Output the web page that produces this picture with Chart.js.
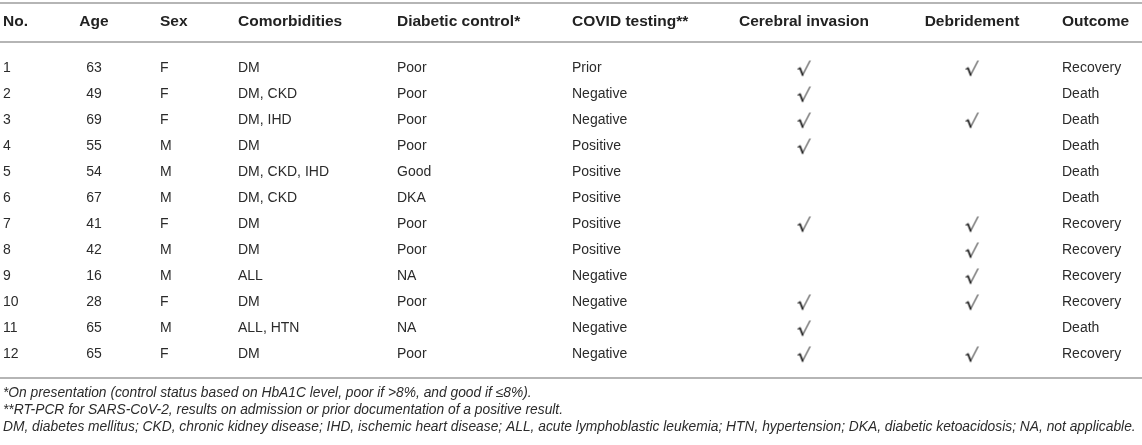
<!DOCTYPE html>
<html>
<head>
<meta charset="utf-8">
<script src="https://cdn.jsdelivr.net/npm/chart.js@4"></script>
<style>
  html, body { margin: 0; padding: 0; background: #ffffff; }
  #caseTable { display: block; }
</style>
</head>
<body>
<canvas id="caseTable" width="1142" height="445"></canvas>
<script>
// Table data
const headers = ["No.", "Age", "Sex", "Comorbidities", "Diabetic control*", "COVID testing**", "Cerebral invasion", "Debridement", "Outcome"];
const caseNo = [1, 2, 3, 4, 5, 6, 7, 8, 9, 10, 11, 12];
const ages = [63, 49, 69, 55, 54, 67, 41, 42, 16, 28, 65, 65];
const sexes = ["F", "F", "F", "M", "M", "M", "F", "M", "M", "F", "M", "F"];
const comorbidities = ["DM", "DM, CKD", "DM, IHD", "DM", "DM, CKD, IHD", "DM, CKD", "DM", "DM", "ALL", "DM", "ALL, HTN", "DM"];
const diabeticControl = ["Poor", "Poor", "Poor", "Poor", "Good", "DKA", "Poor", "Poor", "NA", "Poor", "NA", "Poor"];
const covidTesting = ["Prior", "Negative", "Negative", "Positive", "Positive", "Positive", "Positive", "Positive", "Negative", "Negative", "Negative", "Negative"];
const cerebralInvasion = [true, true, true, true, false, false, true, false, false, true, true, true];
const debridement = [true, false, true, false, false, false, true, true, true, true, false, true];
const outcomes = ["Recovery", "Death", "Death", "Death", "Death", "Death", "Recovery", "Recovery", "Recovery", "Recovery", "Death", "Recovery"];
const footnotes = [
  "*On presentation (control status based on HbA1C level, poor if >8%, and good if \u22648%).",
  "**RT-PCR for SARS-CoV-2, results on admission or prior documentation of a positive result.",
  "DM, diabetes mellitus; CKD, chronic kidney disease; IHD, ischemic heart disease; ALL, acute lymphoblastic leukemia; HTN, hypertension; DKA, diabetic ketoacidosis; NA, not applicable."
];

// Layout (x in px along the x scale, y in row units along the y scale)
const colX = [3, 94, 160, 238, 397, 572, 804, 972, 1062];
const colAlign = ["left", "center", "left", "left", "left", "left", "center", "center", "left"];
const topRuleY = -1.5;
const headerY = -0.77;
const headerRuleY = 0;
const bottomRuleY = 12.92;
const footnoteY = [13.5, 14.15, 14.81];

const textColor = "#222222";
const ruleColor = "#b5b5b5";

// check mark drawn once, used as point style
function makeCheck() {
  let c = document.createElement("canvas");
  c.width = 15;
  c.height = 17;
  let g = c.getContext("2d");
  g.strokeStyle = "#1a1a1a";
  g.lineCap = "round";
  g.lineJoin = "round";
  g.lineWidth = 1.1;
  g.beginPath();
  g.moveTo(1.5, 9.5);
  g.lineTo(3.5, 8.5);
  g.stroke();
  g.lineWidth = 1.8;
  g.beginPath();
  g.moveTo(3.5, 8.5);
  g.lineTo(6.2, 15.3);
  g.stroke();
  g.lineWidth = 1;
  g.beginPath();
  g.moveTo(6.2, 15.3);
  g.lineTo(13.5, 1.2);
  g.stroke();
  return c;
}
const checkImg = makeCheck();

function checkPoints(flags, col) {
  let pts = [];
  flags.forEach(function (f, i) {
    if (f) pts.push({ x: colX[col], y: caseNo[i] });
  });
  return pts;
}

// text columns (the two check columns are drawn as points)
const textColumns = [caseNo, ages, sexes, comorbidities, diabeticControl, covidTesting, null, null, outcomes];

const tablePlugin = {
  id: "tableText",
  beforeDatasetsDraw: function (chart) {
    let ctx = chart.ctx;
    let xs = chart.scales.x;
    let ys = chart.scales.y;
    ctx.save();

    // rules
    ctx.strokeStyle = ruleColor;
    ctx.lineWidth = 2;
    [topRuleY, headerRuleY, bottomRuleY].forEach(function (v) {
      let py = Math.round(ys.getPixelForValue(v));
      ctx.beginPath();
      ctx.moveTo(xs.getPixelForValue(0), py);
      ctx.lineTo(xs.getPixelForValue(1142), py);
      ctx.stroke();
    });

    ctx.fillStyle = textColor;
    ctx.textBaseline = "middle";

    // header
    ctx.font = "bold 15.5px 'Liberation Sans', Arial, sans-serif";
    headers.forEach(function (h, c) {
      ctx.textAlign = colAlign[c];
      ctx.fillText(h, xs.getPixelForValue(colX[c]), ys.getPixelForValue(headerY));
    });

    // body
    ctx.font = "14px 'Liberation Sans', Arial, sans-serif";
    ctx.fillStyle = "#2b2b2b";
    caseNo.forEach(function (n, r) {
      textColumns.forEach(function (col, c) {
        if (col === null) return;
        ctx.textAlign = colAlign[c];
        ctx.fillText(String(col[r]), xs.getPixelForValue(colX[c]), ys.getPixelForValue(n));
      });
    });

    // footnotes
    ctx.font = "italic 13.8px 'Liberation Sans', Arial, sans-serif";
    ctx.textAlign = "left";
    footnotes.forEach(function (f, i) {
      ctx.fillText(f, xs.getPixelForValue(colX[0]), ys.getPixelForValue(footnoteY[i]));
    });

    ctx.restore();
  }
};

let canvas = document.getElementById("caseTable");
let ctx = canvas.getContext("2d");

let tableChart = new Chart(ctx, {
  type: "scatter",
  data: {
    datasets: [
      {
        label: "Cerebral invasion",
        data: checkPoints(cerebralInvasion, 6),
        pointStyle: checkImg,
      },
      {
        label: "Debridement",
        data: checkPoints(debridement, 7),
        pointStyle: checkImg,
      },
    ],
  },
  options: {
    responsive: false,
    animation: false,
    devicePixelRatio: 1,
    layout: { padding: 0, autoPadding: false },
    plugins: {
      legend: { display: false },
      tooltip: { enabled: false },
    },
    scales: {
      x: { type: "linear", min: 0, max: 1142, display: false },
      y: { type: "linear", min: -1.62, max: 15.5, reverse: true, display: false },
    },
  },
  plugins: [tablePlugin],
});
</script>
</body>
</html>
